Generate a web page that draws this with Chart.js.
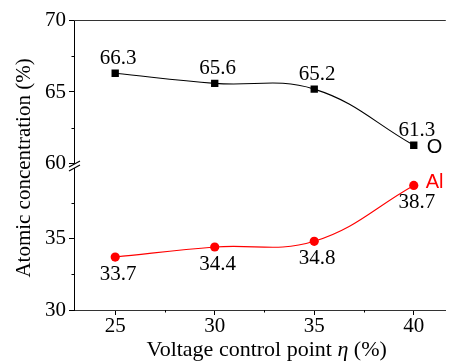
<!DOCTYPE html>
<html>
<head>
<meta charset="utf-8">
<script src="https://cdn.jsdelivr.net/npm/chart.js@4.4.1/dist/chart.umd.min.js"></script>
<style>
  html, body { margin: 0; padding: 0; background: #fff; }
</style>
</head>
<body>
<canvas id="chart" width="451" height="363"></canvas>
<script>
// ---- data ----
const voltagePoints = [25, 30, 35, 40];
const oxygenValues = [66.3, 65.6, 65.2, 61.3];
const aluminiumValues = [33.7, 34.4, 34.8, 38.7];
const seriesNames = ['O', 'Al'];
const xTickValues = [25, 27.5, 30, 32.5, 35, 37.5, 40];
const upperTickValues = [60, 62.5, 65, 67.5, 70];
const lowerTickValues = [30, 32.5, 35, 37.5];

const SERIF = "'Liberation Serif', 'Times New Roman', serif";
const SANS = "'Liberation Sans', Arial, sans-serif";
const isMajor = v => Math.abs(v % 5) < 1e-6;

const axisTicks = values => scale => { scale.ticks = values.map(v => ({ value: v })); };

const commonGrid = {
    drawOnChartArea: false,
    tickLength: 5,
    tickColor: ctx => (ctx.tick && isMajor(ctx.tick.value)) ? '#000' : 'rgba(0,0,0,0)'
};
const commonTicks = {
    color: '#000',
    font: { family: SERIF, size: 21, lineHeight: 1 },
    autoSkip: false,
    maxRotation: 0,
    callback: v => isMajor(v) ? String(v) : ''
};

// extra drawing: minor ticks, frame top, axis break, point labels, titles
const decor = {
    id: 'decor',
    afterDraw(chart) {
        const { ctx, chartArea: a, scales } = chart;
        ctx.save();

        // top frame line
        ctx.strokeStyle = '#333';
        ctx.lineWidth = 1;
        ctx.beginPath();
        ctx.moveTo(a.left, a.top + 0.5);
        ctx.lineTo(a.right, a.top + 0.5);
        ctx.stroke();

        // short outward minor ticks
        ctx.strokeStyle = '#000';
        ctx.beginPath();
        xTickValues.filter(v => !isMajor(v)).forEach(v => {
            const px = Math.round(scales.x.getPixelForValue(v)) + 0.5;
            ctx.moveTo(px, a.bottom);
            ctx.lineTo(px, a.bottom + 2.5);
        });
        [[scales.yTop, upperTickValues], [scales.yBot, lowerTickValues]].forEach(([s, vals]) => {
            vals.filter(v => !isMajor(v)).forEach(v => {
                const py = Math.round(s.getPixelForValue(v)) + 0.5;
                ctx.moveTo(a.left - 2.5, py);
                ctx.lineTo(a.left, py);
            });
        });
        ctx.stroke();

        // axis break
        const by = scales.yTop.bottom + 2;
        ctx.fillStyle = '#fff';
        ctx.fillRect(a.left - 2, by - 2, 4, 4);
        ctx.strokeStyle = '#000';
        ctx.lineWidth = 1.2;
        ctx.beginPath();
        ctx.moveTo(a.left - 5, by + 1);
        ctx.lineTo(a.left + 6, by - 5);
        ctx.moveTo(a.left - 5, by + 5);
        ctx.lineTo(a.left + 6, by - 1);
        ctx.stroke();

        // value labels
        ctx.fillStyle = '#000';
        ctx.font = '21px ' + SERIF;
        ctx.textAlign = 'center';
        ctx.textBaseline = 'middle';
        chart.getDatasetMeta(0).data.forEach((p, i) => {
            ctx.fillText(oxygenValues[i].toFixed(1), p.x + 3, p.y - 14.5);
        });
        chart.getDatasetMeta(1).data.forEach((p, i) => {
            ctx.fillText(aluminiumValues[i].toFixed(1), p.x + 3, p.y + 17.5);
        });

        // series names next to last points
        ctx.font = '20px ' + SANS;
        ctx.textAlign = 'left';
        const oLast = chart.getDatasetMeta(0).data[3];
        const alLast = chart.getDatasetMeta(1).data[3];
        ctx.fillStyle = '#000';
        ctx.fillText(seriesNames[0], oLast.x + 13, oLast.y + 2);
        ctx.fillStyle = '#ff0000';
        ctx.fillText(seriesNames[1], alLast.x + 12, alLast.y - 3);

        // y axis title
        ctx.fillStyle = '#000';
        ctx.font = '21px ' + SERIF;
        ctx.save();
        ctx.translate(24, 168);
        ctx.rotate(-Math.PI / 2);
        ctx.textAlign = 'center';
        ctx.fillText('Atomic concentration (%)', 0, 0);
        ctx.restore();

        // x axis title with italic eta
        const parts = [
            ['Voltage control point ', '22px ' + SERIF],
            ['\u03B7', 'italic 22px ' + SERIF],
            [' (%)', '22px ' + SERIF]
        ];
        let total = 0;
        parts.forEach(([t, f]) => { ctx.font = f; total += ctx.measureText(t).width; });
        let x = 266.7 - total / 2;
        ctx.textAlign = 'left';
        ctx.textBaseline = 'alphabetic';
        parts.forEach(([t, f]) => {
            ctx.font = f;
            ctx.fillText(t, x, 356);
            x += ctx.measureText(t).width;
        });

        ctx.restore();
    }
};

new Chart(document.getElementById('chart'), {
    type: 'line',
    data: {
        datasets: [{
            label: seriesNames[0],
            data: voltagePoints.map((v, i) => ({ x: v, y: oxygenValues[i] })),
            yAxisID: 'yTop',
            borderColor: '#000',
            backgroundColor: '#000',
            borderWidth: 1.1,
            tension: 0.4,
            pointStyle: 'rect',
            pointRadius: 5.2,
            pointBorderWidth: 0
        }, {
            label: seriesNames[1],
            data: voltagePoints.map((v, i) => ({ x: v, y: aluminiumValues[i] })),
            yAxisID: 'yBot',
            borderColor: '#ff0000',
            backgroundColor: '#ff0000',
            borderWidth: 1.1,
            tension: 0.4,
            pointStyle: 'circle',
            pointRadius: 4.6,
            pointBorderWidth: 0
        }]
    },
    options: {
        responsive: false,
        animation: false,
        layout: { padding: { left: 42, top: 20, right: 0, bottom: 25 } },
        plugins: { legend: { display: false }, tooltip: { enabled: false } },
        scales: {
            x: {
                type: 'linear',
                min: 22.93,
                max: 41.61,
                afterBuildTicks: axisTicks(xTickValues),
                grid: commonGrid,
                border: { color: '#333', width: 1 },
                ticks: { ...commonTicks, padding: 1 }
            },
            yBot: {
                type: 'linear',
                position: 'left',
                stack: 'y',
                stackWeight: 143,
                min: 30,
                max: 40.2,
                afterBuildTicks: axisTicks(lowerTickValues),
                grid: commonGrid,
                border: { color: '#000', width: 1 },
                ticks: { ...commonTicks, padding: 3 }
            },
            yTop: {
                type: 'linear',
                position: 'left',
                stack: 'y',
                stackWeight: 141,
                min: 60,
                max: 70,
                afterBuildTicks: axisTicks(upperTickValues),
                grid: commonGrid,
                border: { color: '#000', width: 1 },
                ticks: { ...commonTicks, padding: 3 }
            }
        }
    },
    plugins: [decor]
});
</script>
</body>
</html>
